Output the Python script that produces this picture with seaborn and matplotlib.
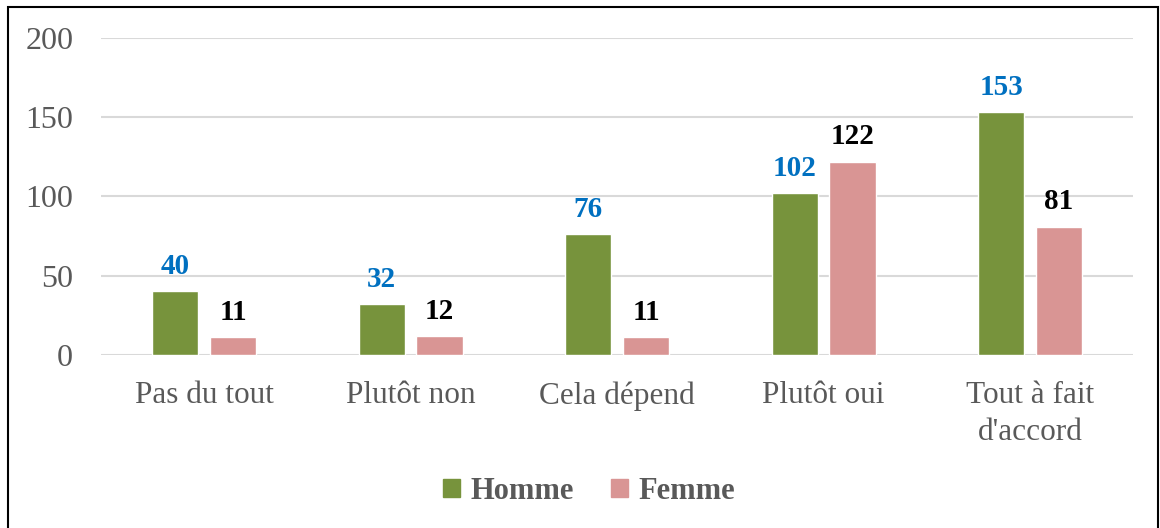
import numpy as np
import pandas as pd
import matplotlib.pyplot as plt
import seaborn as sns
from matplotlib.patches import Rectangle

# data
categories = ["Pas du tout", "Plutôt non", "Cela dépend", "Plutôt oui", "Tout à fait\nd'accord"]
homme = [40, 32, 76, 102, 153]
femme = [11, 12, 11, 122, 81]
series = ["Homme", "Femme"]

df = pd.DataFrame({
    "categorie": categories * 2,
    "valeur": homme + femme,
    "sexe": ["Homme"] * len(categories) + ["Femme"] * len(categories),
})

sns.set_style("white")
plt.rcParams["font.family"] = ["Liberation Serif", "DejaVu Serif"]

fig = plt.figure(figsize=(11.6, 5.28), dpi=100)
ax = fig.add_axes([0.087, 0.328, 0.890, 0.600])

palette = {"Homme": "#77933C", "Femme": "#D99594"}
sns.barplot(data=df, x="categorie", y="valeur", hue="sexe", hue_order=series,
            palette=palette, width=0.56, gap=0.2, ax=ax, legend=False,
            saturation=1)

label_colors = ["#0070C0", "#000000"]
for cont, col in zip(ax.containers, label_colors):
    ax.bar_label(cont, padding=8, color=col, fontsize=21, fontweight="bold")

ax.set_ylim(0, 200)
ax.set_yticks([0, 50, 100, 150, 200])
ax.set_xlim(-0.5, len(categories) - 0.5)
ax.yaxis.grid(True, color="#D9D9D9", linewidth=1.5)
ax.set_axisbelow(True)
for s in ax.spines.values():
    s.set_visible(False)
ax.set_xlabel("")
ax.set_ylabel("")
ax.tick_params(axis="y", labelsize=23, colors="#595959", length=0, pad=20)
ax.tick_params(axis="x", labelsize=22.5, colors="#595959", length=0, pad=19)
for t in ax.get_xticklabels():
    t.set_linespacing(1.35)

handles = [Rectangle((0, 0), 1, 1, color=palette[s]) for s in series]
leg = fig.legend(handles, series, loc="center", bbox_to_anchor=(0.508, 0.07),
                 ncol=2, frameon=False, handlelength=0.55, handleheight=0.55,
                 columnspacing=1.2, handletextpad=0.35,
                 prop={"size": 22, "weight": "bold"})
for t in leg.get_texts():
    t.set_color("#595959")

# outer border
fig.patches.append(Rectangle((0.007, -0.01), 0.991, 0.997, transform=fig.transFigure,
                             fill=False, edgecolor="black", linewidth=1.5))

fig.savefig("out.png", dpi=100)
